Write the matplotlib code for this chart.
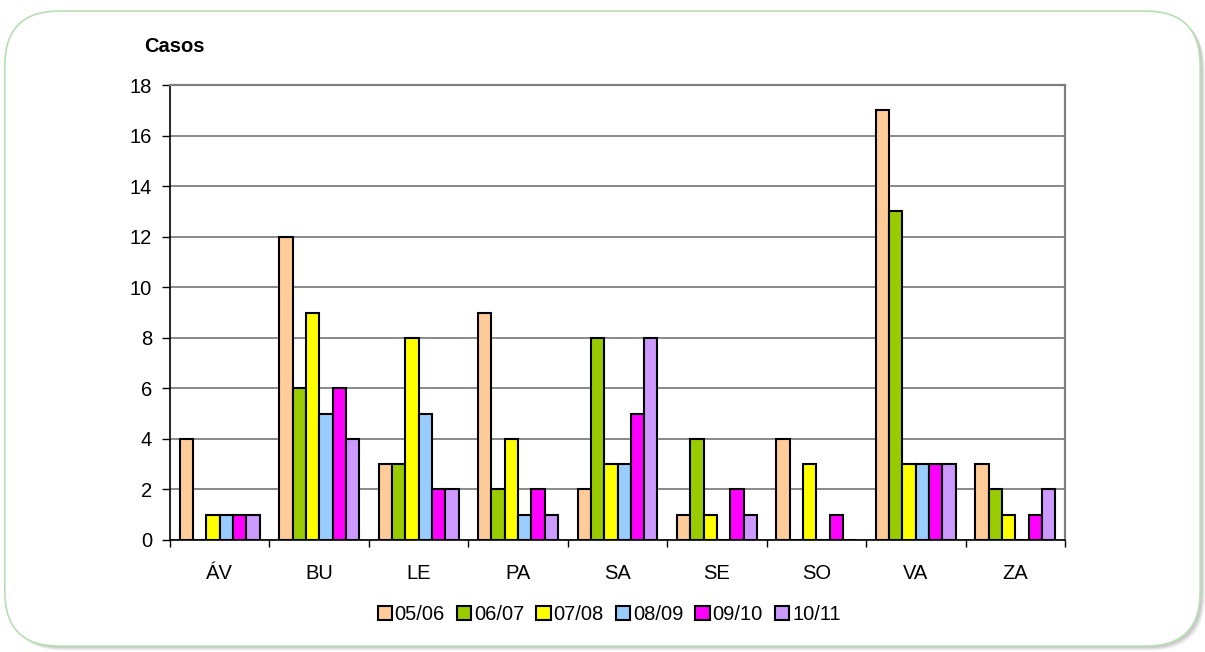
import numpy as np
import matplotlib
matplotlib.use("Agg")
import matplotlib.pyplot as plt
from matplotlib.patches import FancyBboxPatch

provincias = ["ÁV", "BU", "LE", "PA", "SA", "SE", "SO", "VA", "ZA"]
temporadas = ["05/06", "06/07", "07/08", "08/09", "09/10", "10/11"]
t_05_06 = [4, 12, 3, 9, 2, 1, 4, 17, 3]
t_06_07 = [0, 6, 3, 2, 8, 4, 0, 13, 2]
t_07_08 = [1, 9, 8, 4, 3, 1, 3, 3, 1]
t_08_09 = [1, 5, 5, 1, 3, 0, 0, 3, 0]
t_09_10 = [1, 6, 2, 2, 5, 2, 1, 3, 1]
t_10_11 = [1, 4, 2, 1, 8, 1, 0, 3, 2]
series = [t_05_06, t_06_07, t_07_08, t_08_09, t_09_10, t_10_11]
colores = ["#FFCC99", "#99CC00", "#FFFF00", "#99CCFF", "#FF00FF", "#CC99FF"]

plt.rcParams["font.family"] = ["Liberation Sans", "DejaVu Sans"]

fig = plt.figure(figsize=(12.05, 6.52), dpi=100)

# rounded panel with a soft shadow
for i, a in enumerate([0.05, 0.07, 0.09]):
    sh = FancyBboxPatch((0.005 + 0.001 * (3 - i), 0.008 - 0.002 * (3 - i)), 0.992, 0.974,
                        boxstyle="round,pad=0,rounding_size=0.045",
                        transform=fig.transFigure, facecolor="black", alpha=a,
                        edgecolor="none", zorder=0, mutation_aspect=1205 / 652)
    fig.patches.append(sh)
panel = FancyBboxPatch((0.004, 0.009), 0.992, 0.974,
                       boxstyle="round,pad=0,rounding_size=0.045",
                       transform=fig.transFigure, facecolor="white",
                       edgecolor="#B5E0B0", linewidth=1.2, zorder=1,
                       mutation_aspect=1205 / 652)
fig.patches.append(panel)

ax = fig.add_axes([0.1411, 0.1718, 0.7427, 0.6978])
ax.set_facecolor("none")
ax.set_zorder(2)

n = len(series)
x = np.arange(len(provincias))
w = 0.134
for k, (vals, c, lab) in enumerate(zip(series, colores, temporadas)):
    ax.bar(x + (k - (n - 1) / 2) * w, vals, width=w, color=c,
           edgecolor="black", linewidth=1.5, label=lab, zorder=3)

ax.set_xlim(-0.5, len(provincias) - 0.5)
ax.set_ylim(0, 18)
ax.set_yticks(np.arange(0, 19, 2))
ax.yaxis.grid(True, color="#6a6a6a", linewidth=1.1, zorder=0)
ax.set_axisbelow(True)

ax.set_xticks(x)
ax.set_xticklabels(provincias, fontsize=14.5)
ax.set_xticks(np.arange(-0.5, len(provincias), 1), minor=True)
ax.tick_params(axis="x", which="major", length=0, pad=17)
ax.tick_params(axis="x", which="minor", length=5, width=1, color="black")
ax.tick_params(axis="y", length=6, width=1, labelsize=14.5, pad=7)

for s in ["top", "right"]:
    ax.spines[s].set_color("#808080")
    ax.spines[s].set_linewidth(1.6)
for s in ["left", "bottom"]:
    ax.spines[s].set_color("black")
    ax.spines[s].set_linewidth(1.2)

fig.text(0.1195, 0.928, "Casos", fontsize=14.5, fontweight="bold", ha="left", va="center")

leg = fig.legend(loc="center", bbox_to_anchor=(0.5055, 0.057), ncol=6, frameon=False,
                 fontsize=14.5, handlelength=0.7, handleheight=0.7, handletextpad=0.15,
                 columnspacing=0.6)

fig.savefig("out.png", dpi=100)
